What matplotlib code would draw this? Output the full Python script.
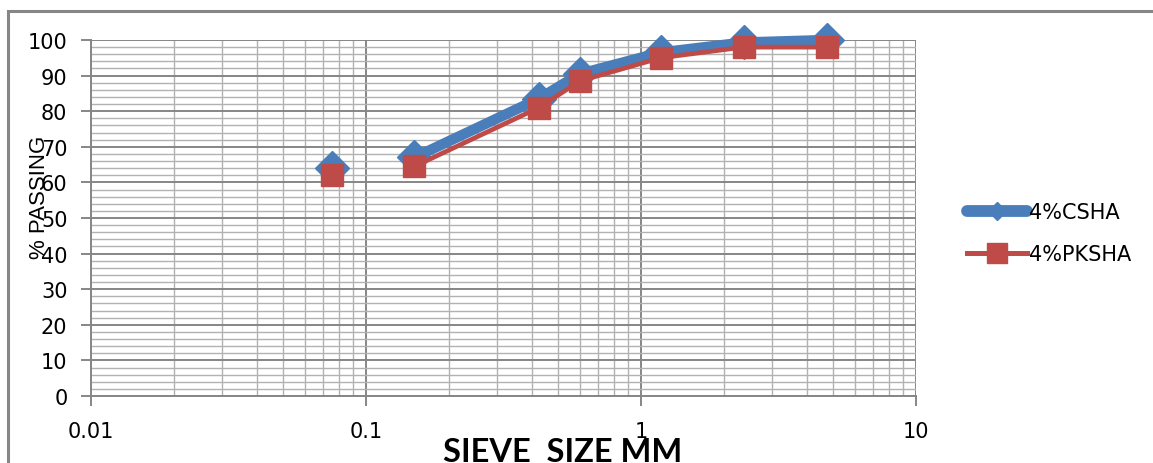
import numpy as np
import matplotlib
matplotlib.use("Agg")
import matplotlib.pyplot as plt
from matplotlib.patches import Rectangle
from matplotlib.ticker import FixedLocator, LogLocator, NullFormatter, MultipleLocator

plt.rcParams['font.family'] = ['DejaVu Sans']

# sieve analysis data
sieve_mm = [0.075, 0.15, 0.425, 0.6, 1.18, 2.36, 4.75]
csha = [64.0, 67.0, 83.5, 90.5, 96.5, 99.3, 100.0]
pksha = [62.0, 64.5, 81.0, 88.5, 95.0, 98.0, 98.0]
x_ticks = [0.01, 0.1, 1, 10]
x_labels = ['0.01', '0.1', '1', '10']

blue = '#4A7EBB'
red = '#BE4B48'

W, H = 1153, 464
fig = plt.figure(figsize=(W / 100, H / 100), dpi=100)
ax = fig.add_axes([91 / W, 1 - 397 / H, 825 / W, 356 / H])

# the 0.075 point is not joined to the rest of the curve
ax.plot(sieve_mm[1:], csha[1:], color=blue, lw=7.5, solid_capstyle='round',
        solid_joinstyle='round', zorder=3, clip_on=False)
ax.plot(sieve_mm, csha, ls='none', marker='D', ms=17.5, color=blue, zorder=4, clip_on=False)
ax.plot(sieve_mm[1:], pksha[1:], color=red, lw=3.4, zorder=5, clip_on=False)
ax.plot(sieve_mm, pksha, ls='none', marker='s', ms=16, color=red, zorder=6, clip_on=False)

ax.set_xscale('log')
ax.set_xlim(0.01, 10)
ax.set_ylim(0, 100)
ax.xaxis.set_major_locator(FixedLocator(x_ticks))
ax.set_xticklabels(x_labels)
ax.xaxis.set_minor_locator(LogLocator(base=10, subs=np.arange(2, 10)))
ax.xaxis.set_minor_formatter(NullFormatter())
ax.yaxis.set_major_locator(MultipleLocator(10))
ax.yaxis.set_minor_locator(MultipleLocator(2))

ax.grid(which='major', color='#868686', lw=1.4)
ax.grid(which='minor', color='#b2b2b2', lw=1.0)
ax.set_axisbelow(True)
for side in ['top', 'right']:
    ax.spines[side].set_visible(False)
for side in ['left', 'bottom']:
    ax.spines[side].set_color('#868686')
    ax.spines[side].set_linewidth(1.4)
ax.tick_params(which='major', length=7, color='#868686', width=1.4, labelsize=15)
ax.tick_params(which='minor', length=0)
ax.tick_params(axis='x', pad=11)
ax.tick_params(axis='y', pad=10)

fig.text(39.5 / W, 1 - 197.5 / H, '% PASSING', rotation=90, ha='center', va='center',
         fontsize=16, family=['Liberation Sans'])
fig.text(562.5 / W, 1 - 462.5 / H, 'SIEVE  SIZE MM', ha='center', va='baseline',
         fontsize=23.5, fontweight='bold', family=['Lato'])

leg_handles = [
    plt.Line2D([], [], color=blue, lw=8.5, marker='D', ms=9, solid_capstyle='round'),
    plt.Line2D([], [], color=red, lw=3.6, marker='s', ms=14.5),
]
fig.legend(leg_handles, ['4%CSHA', '4%PKSHA'], loc='upper left',
           bbox_to_anchor=(967 / W, 1 - 203 / H), frameon=False, fontsize=15,
           handlelength=2.9, handletextpad=0.1, labelspacing=1.05,
           borderpad=0, borderaxespad=0)

# chart area border
fig.patches.append(Rectangle((8 / W, -0.1), 1.2, 1 - 12 / H + 0.1,
                             transform=fig.transFigure, fill=False,
                             edgecolor='#868686', lw=2.2))

fig.savefig('out.png', dpi=100)
